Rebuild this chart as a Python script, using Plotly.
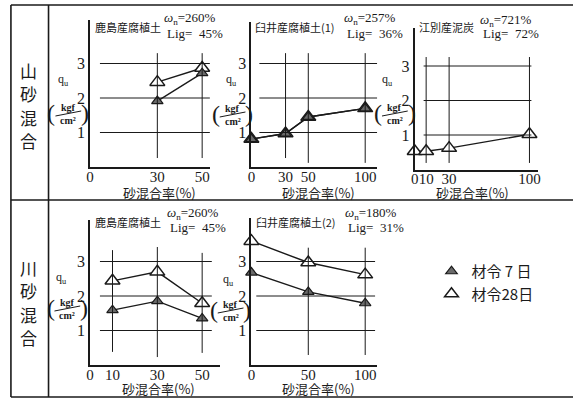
import plotly.graph_objects as go

W, H = 575, 400

# ---------------- data ----------------
p1_x = [30, 50]
p1_d7 = [1.91, 2.72]
p1_d28 = [2.46, 2.87]

p2_x = [0, 30, 50, 100]
p2_d7 = [0.81, 0.97, 1.45, 1.70]
p2_d28 = [0.81, 0.97, 1.45, 1.70]

p3_x = [0, 10, 30, 100]
p3_d28 = [0.53, 0.53, 0.62, 1.02]

p4_x = [10, 30, 50]
p4_d7 = [1.59, 1.85, 1.35]
p4_d28 = [2.44, 2.70, 1.79]

p5_x = [0, 50, 100]
p5_d7 = [2.68, 2.12, 1.79]
p5_d28 = [3.59, 2.97, 2.62]

y_ticks = [1, 2, 3]
x_ticks = [[0, 30, 50], [0, 30, 50, 100], [0, 10, 30, 100], [0, 10, 30, 50], [0, 50, 100]]

titles = ["鹿島産腐植土", "臼井産腐植土(1)", "江別産泥炭", "鹿島産腐植土", "臼井産腐植土(2)"]
wn_text = ["260%", "257%", "721%", "260%", "180%"]
lig_text = ["45%", "36%", "72%", "45%", "31%"]
row_labels = ["山砂混合", "川砂混合"]
legend_names = ["材令 7 日", "材令28日"]
x_title = "砂混合率(%)"

# ---------------- layout geometry (px) ----------------
def X(px):
    return px / W

def Y(py):
    return 1 - py / H

panels = [
    dict(ox=87, oy=167, sx=2.265, sy=34.5, xe=208, yt=20, hg=(4.4, 55),
         vg=[(30, 0.26, 3.3), (50, 0.26, 3.3)],
         title=(90, 27), wn=(160, 19), qu=(60, 80), unit=(65, 113), xt=(157, 193)),
    dict(ox=250, oy=167, sx=1.15, sy=34.5, xe=377, yt=22, hg=(7, 111),
         vg=[(30, 0.26, 3.3), (50, 0.12, 3.3), (100, 0.12, 3.3)],
         title=(252, 27), wn=(342, 19), qu=(230, 80), unit=(231, 114), xt=(318, 193)),
    dict(ox=415, oy=169.5, sx=1.16, sy=34.5, xe=540, yt=28, hg=(7.8, 101.7),
         vg=[(10, 0.19, 3.26), (30, 0.19, 3.26), (100, 0.19, 3.26)],
         title=(417, 27), wn=(479, 20), qu=(388, 80), unit=(395, 113), xt=(473, 193)),
    dict(ox=87, oy=365, sx=2.265, sy=34.5, xe=218, yt=220, hg=(4.4, 54.3),
         vg=[(10, 0.38, 3.33), (30, 0.23, 3.42), (50, 0.35, 3.25)],
         title=(90, 222), wn=(163, 213), qu=(58, 278), unit=(64, 308), xt=(156, 388)),
    dict(ox=250, oy=365, sx=1.15, sy=34.5, xe=377, yt=218, hg=(4.3, 108.7),
         vg=[(50, 0.29, 3.4), (100, 0.29, 3.4)],
         title=(253, 222), wn=(343, 213), qu=(227, 280), unit=(229, 310), xt=(318, 388)),
]

series = [
    (p1_x, p1_d7, p1_d28),
    (p2_x, p2_d7, p2_d28),
    (p3_x, None, p3_d28),
    (p4_x, p4_d7, p4_d28),
    (p5_x, p5_d7, p5_d28),
]

SERIF = "Liberation Serif"
CJK = "Noto Sans CJK JP"
INK = "#1a1a1a"

fig = go.Figure()
shapes = []
annotations = []
layout = {}


def note(px, py, text, family, size, xanchor="center"):
    annotations.append(dict(x=X(px), y=Y(py), xref="paper", yref="paper", text=text,
                            xanchor=xanchor, yanchor="middle", showarrow=False,
                            font=dict(family=family, size=size, color=INK)))


for i, (p, (xs, d7, d28)) in enumerate(zip(panels, series)):
    n = i + 1
    xa = "x" if n == 1 else f"x{n}"
    ya = "y" if n == 1 else f"y{n}"
    xr = [0, (p["xe"] - p["ox"]) / p["sx"]]
    yr = [0, (p["oy"] - p["yt"]) / p["sy"]]
    layout[f"xaxis{n}"] = dict(
        domain=[X(p["ox"]), X(p["xe"])], range=xr, anchor=ya,
        showline=True, linecolor=INK, linewidth=1.8, showgrid=False, zeroline=False,
        ticks="", tickvals=x_ticks[i], ticktext=[str(v) for v in x_ticks[i]],
        tickangle=0, ticklabelstandoff=-5,
        tickfont=dict(family=SERIF, size=15, color=INK), fixedrange=True)
    layout[f"yaxis{n}"] = dict(
        domain=[Y(p["oy"]), Y(p["yt"])], range=yr, anchor=xa,
        showline=True, linecolor=INK, linewidth=1.8, showgrid=False, zeroline=False,
        ticks="", tickvals=y_ticks, ticktext=[str(v) for v in y_ticks],
        tickfont=dict(family=SERIF, size=16, color=INK), fixedrange=True)
    # grid segments
    for gy in y_ticks:
        shapes.append(dict(type="line", xref=xa, yref=ya, x0=p["hg"][0], x1=p["hg"][1],
                           y0=gy, y1=gy, line=dict(color=INK, width=1)))
    for gx, y0, y1 in p["vg"]:
        shapes.append(dict(type="line", xref=xa, yref=ya, x0=gx, x1=gx,
                           y0=y0, y1=y1, line=dict(color=INK, width=1)))
    # data
    fig.add_trace(go.Scatter(
        x=xs, y=d28, xaxis=xa, yaxis=ya, mode="lines+markers", showlegend=False,
        cliponaxis=False, line=dict(color=INK, width=1.4),
        marker=dict(symbol="triangle-up", size=13, color="white",
                    line=dict(color=INK, width=1.5))))
    if d7 is not None:
        fig.add_trace(go.Scatter(
            x=xs, y=d7, xaxis=xa, yaxis=ya, mode="lines+markers", showlegend=False,
            cliponaxis=False, line=dict(color=INK, width=1.4),
            marker=dict(symbol="triangle-up", size=10, color="#6a6a6a",
                        line=dict(color=INK, width=1.2))))
    # title texts
    tx, ty = p["title"]
    note(tx, ty, titles[i], CJK, 11, "left")
    wx, wy = p["wn"]
    note(wx, wy, "<i>ω</i><sub>n</sub>=" + wn_text[i], SERIF, 13, "left")
    note(wx + 3, wy + 14, "Lig=  " + lig_text[i], SERIF, 13, "left")
    # q_u label and unit
    qx, qy = p["qu"]
    note(qx, qy, "q<sub>u</sub>", SERIF, 12)
    ux, uy = p["unit"]
    note(ux - 17, uy, "(", SERIF, 24)
    note(ux + 17, uy, ")", SERIF, 24)
    note(ux, uy - 6, "<b>kgf</b>", SERIF, 10)
    note(ux, uy + 7, "<b>cm²</b>", SERIF, 10)
    shapes.append(dict(type="line", xref="paper", yref="paper",
                       x0=X(ux - 13), x1=X(ux + 13), y0=Y(uy + 3), y1=Y(uy - 2),
                       line=dict(color=INK, width=1)))
    # x title
    xtx, xty = p["xt"]
    note(xtx, xty, x_title, CJK, 13)

# row labels (vertical text)
for label, cy in zip(row_labels, [105, 302]):
    for k, ch in enumerate(label):
        note(25, cy - 35 + k * 23.5, ch, CJK, 17)

# table frame
frame = [(7, 5, 575, 5), (7, 200, 575, 200), (7, 397, 575, 397), (7, 5, 7, 397), (45, 5, 45, 397)]
for x0, y0, x1, y1 in frame:
    shapes.append(dict(type="line", xref="paper", yref="paper", x0=X(x0), x1=X(x1),
                       y0=Y(y0), y1=Y(y1), line=dict(color=INK, width=1.6)))

# legend entries
fig.add_trace(go.Scatter(x=[None], y=[None], mode="markers", name=legend_names[0],
                         marker=dict(symbol="triangle-up", size=10, color="#6a6a6a",
                                     line=dict(color=INK, width=1.2))))
fig.add_trace(go.Scatter(x=[None], y=[None], mode="markers", name=legend_names[1],
                         marker=dict(symbol="triangle-up", size=12, color="white",
                                     line=dict(color=INK, width=1.5))))

fig.update_layout(
    width=W, height=H, margin=dict(l=0, r=0, t=0, b=0),
    paper_bgcolor="white", plot_bgcolor="rgba(0,0,0,0)",
    shapes=shapes, annotations=annotations,
    showlegend=True,
    legend=dict(x=X(432), y=Y(255), xanchor="left", yanchor="top",
                font=dict(family=CJK, size=15, color=INK), bgcolor="rgba(0,0,0,0)",
                itemwidth=30, tracegroupgap=0),
    **layout,
)

fig.write_html("out.html")
